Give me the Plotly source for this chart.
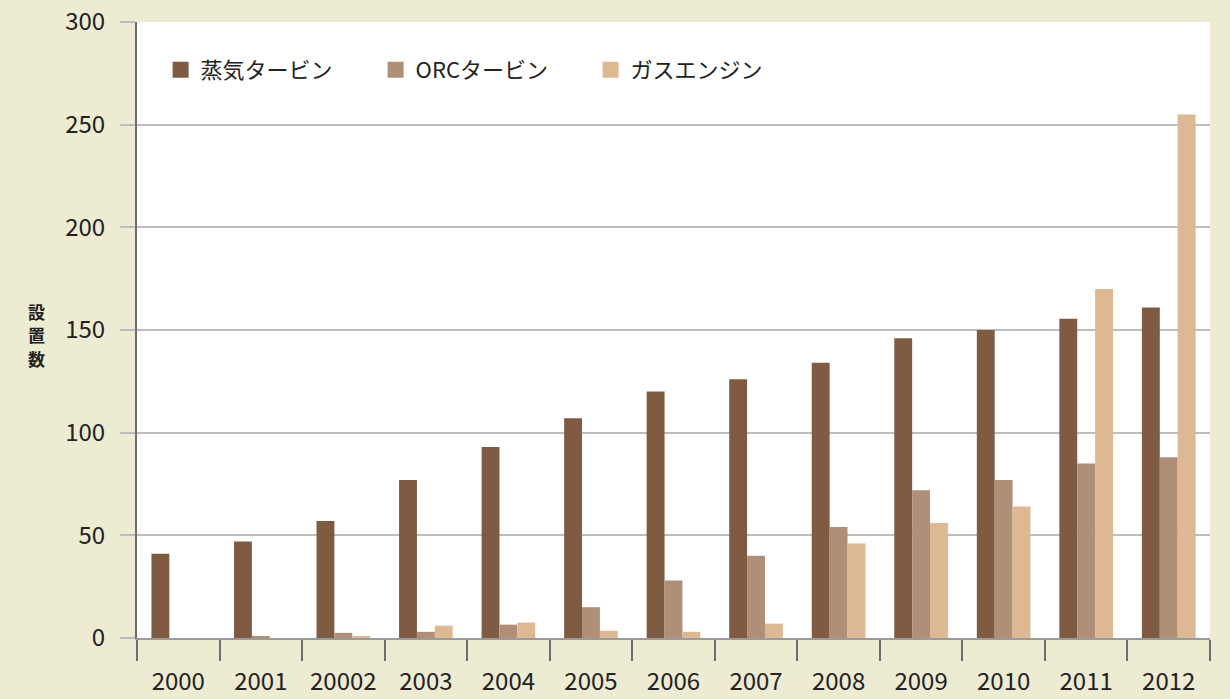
import plotly.graph_objects as go

years = ["2000", "2001", "20002", "2003", "2004", "2005", "2006", "2007", "2008", "2009", "2010", "2011", "2012"]
steam = [41, 47, 57, 77, 93, 107, 120, 126, 134, 146, 150, 155.5, 161]
orc = [0, 1, 2.5, 3, 6.5, 15, 28, 40, 54, 72, 77, 85, 88]
gas = [0, 0, 1, 6, 7.5, 3.5, 3, 7, 46, 56, 64, 170, 255]

names = ["蒸気タービン", "ORCタービン", "ガスエンジン"]
colors = ["#7f5b41", "#b08f78", "#dcb893"]
series = [steam, orc, gas]
ytitle_chars = ["設", "置", "数"]

FONT = "Noto Sans CJK JP, Noto Sans, sans-serif"
BG = "#eeebd3"

fig = go.Figure()
for n, c, s in zip(names, colors, series):
    fig.add_trace(go.Bar(x=years, y=s, name=n, marker=dict(color=c, line=dict(width=0)),
                         showlegend=False))
for n, c in zip(names, colors):
    fig.add_trace(go.Scatter(x=[None], y=[None], mode="markers", name=n,
                             marker=dict(symbol="square", size=16, color=c)))

fig.update_layout(
    width=1230, height=699,
    paper_bgcolor=BG, plot_bgcolor="white",
    margin=dict(l=137, r=20, t=22, b=61, autoexpand=False),
    barmode="group", bargap=0.35, bargroupgap=0,
    font=dict(family=FONT, size=24, color="#222"),
    legend=dict(orientation="h", x=0.022, y=0.922, xanchor="left", yanchor="middle",
                bgcolor="rgba(0,0,0,0)", font=dict(size=22, color="#222"),
                entrywidth=170, itemsizing="trace"),
    showlegend=True,
)
fig.update_xaxes(
    type="category", showgrid=False, showline=True, linecolor="#9a9a9a", linewidth=2,
    ticks="outside", tickson="boundaries", ticklen=21, tickwidth=2, tickcolor="#6e6e6e",
    tickfont=dict(size=24, color="#222"), ticklabelstandoff=21, automargin=False,
)
fig.update_yaxes(
    range=[0, 300], tickvals=[0, 50, 100, 150, 200, 250, 300],
    showgrid=True, gridcolor="#bdbdbd", gridwidth=2,
    showline=True, linecolor="#6e6e6e", linewidth=2,
    ticks="outside", ticklen=15, tickwidth=2, tickcolor="#bdbdbd",
    tickfont=dict(size=24, color="#222"), zeroline=False, ticklabelstandoff=10,
    automargin=False,
)
for i, ch in enumerate(ytitle_chars):
    fig.add_annotation(text=f"<b>{ch}</b>", xref="paper", yref="paper", x=-0.094,
                       y=0.53 - i * 0.038, showarrow=False,
                       font=dict(size=17, color="#222", family=FONT),
                       xanchor="center", yanchor="middle")
fig.write_html("out.html", config={"displayModeBar": False},
               post_script="document.body.style.margin='0';document.body.style.padding='0';")
